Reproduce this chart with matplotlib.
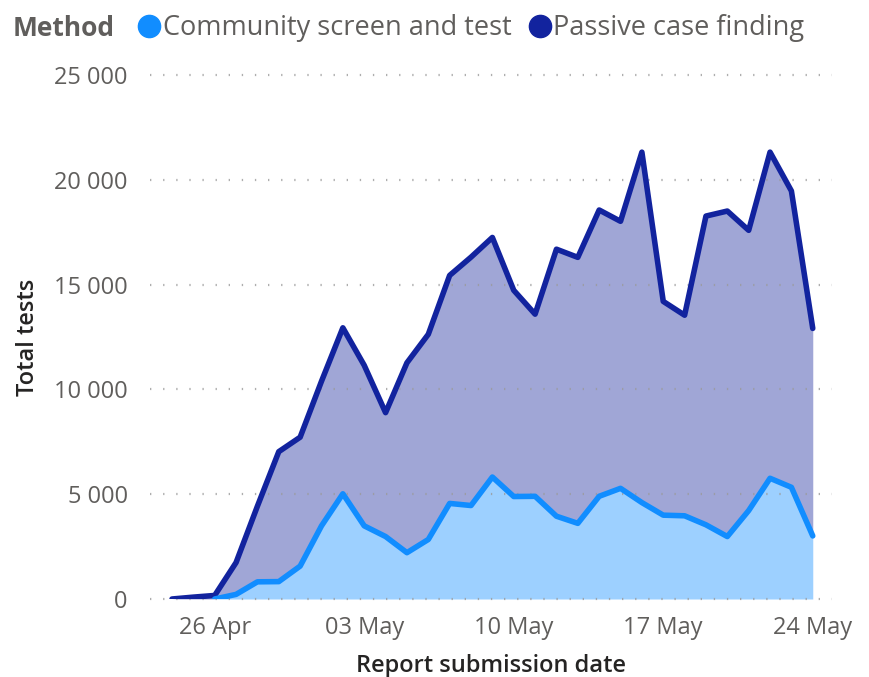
import matplotlib.pyplot as plt
import matplotlib.dates as mdates
import numpy as np
import pandas as pd
from matplotlib.lines import Line2D

dates = pd.date_range('2020-04-24', '2020-05-24', freq='D')

# Community screen and test (bottom layer), starts on 26 Apr
community = [np.nan, np.nan, 0, 220, 820, 830, 1570, 3490, 5020, 3490, 2980,
             2210, 2840, 4560, 4460, 5820, 4890, 4900, 3950, 3610, 4900,
             5280, 4600, 4000, 3970, 3540, 2980, 4220, 5760, 5330, 3010]
# Passive case finding (stacked on top)
passive = [0, 90, 170, 1520, 3610, 6200, 6150, 6900, 7920, 7660, 5910,
           9060, 9790, 10880, 11850, 11430, 9840, 8690, 12740, 12690, 13660,
           12740, 16720, 10200, 9570, 14730, 15530, 13370, 15560, 14140, 9900]

series_names = ['Community screen and test', 'Passive case finding']
tick_dates = pd.to_datetime(['2020-04-26', '2020-05-03', '2020-05-10',
                             '2020-05-17', '2020-05-24'])
y_ticks = [0, 5000, 10000, 15000, 20000, 25000]

c_line = '#118DFF'
c_fill = '#9DD0FF'
p_line = '#12239E'
p_fill = '#A0A6D6'
grey = '#605E5C'

plt.rcParams['font.family'] = ['Open Sans', 'DejaVu Sans']

fig = plt.figure(figsize=(8.69, 6.77), dpi=100)
ax = fig.add_axes([0.1726, 0.1152, 0.7848, 0.7740])

comm = np.array(community, dtype=float)
pas = np.array(passive, dtype=float)
total = np.nan_to_num(comm) + pas

ax.fill_between(dates, 0, comm, color=c_fill, lw=0, zorder=1)
ax.fill_between(dates, np.nan_to_num(comm), total, color=p_fill, lw=0, zorder=1)
ax.plot(dates, total, color=p_line, lw=4, solid_joinstyle='round',
        solid_capstyle='round', zorder=4)
ax.plot(dates, comm, color=c_line, lw=4, solid_joinstyle='round',
        solid_capstyle='round', zorder=5)

ax.set_xlim(dates[0] - pd.Timedelta(days=1.03), dates[-1] + pd.Timedelta(days=0.9))
ax.set_ylim(0, 25000)
ax.set_yticks(y_ticks)
ax.set_yticklabels([f'{v:,}'.replace(',', ' ') for v in y_ticks])
ax.set_xticks(tick_dates)
ax.xaxis.set_major_formatter(mdates.DateFormatter('%d %b'))

for v in y_ticks:
    ax.axhline(v, color='#9a9a9a', lw=1.6, ls=(0, (0.6, 5.3)), zorder=2,
               clip_on=False, alpha=0.8)

for s in ax.spines.values():
    s.set_visible(False)
ax.tick_params(length=0, labelsize=17, colors=grey)
ax.tick_params(axis='y', pad=16)
ax.tick_params(axis='x', pad=12)

ax.set_ylabel('Total tests', fontsize=17, color='#252423', labelpad=10,
              fontweight='semibold')
ax.set_xlabel('Report submission date', fontsize=17, color='#252423', labelpad=10,
              fontweight='semibold')

# legend
fig.text(0.014, 0.958, 'Method', fontsize=19, fontweight='bold', color=grey,
         va='center', ha='left')
handles = [Line2D([], [], ls='none', marker='o', ms=16, color=c_line),
           Line2D([], [], ls='none', marker='o', ms=16, color=p_line)]
fig.legend(handles, series_names, loc='center left', bbox_to_anchor=(0.156, 0.958),
           ncol=2, frameon=False, fontsize=19.5, labelcolor=grey,
           handletextpad=0.0, columnspacing=0.55, handlelength=1.0,
           borderpad=0, borderaxespad=0)

fig.savefig('out.png', dpi=100)
